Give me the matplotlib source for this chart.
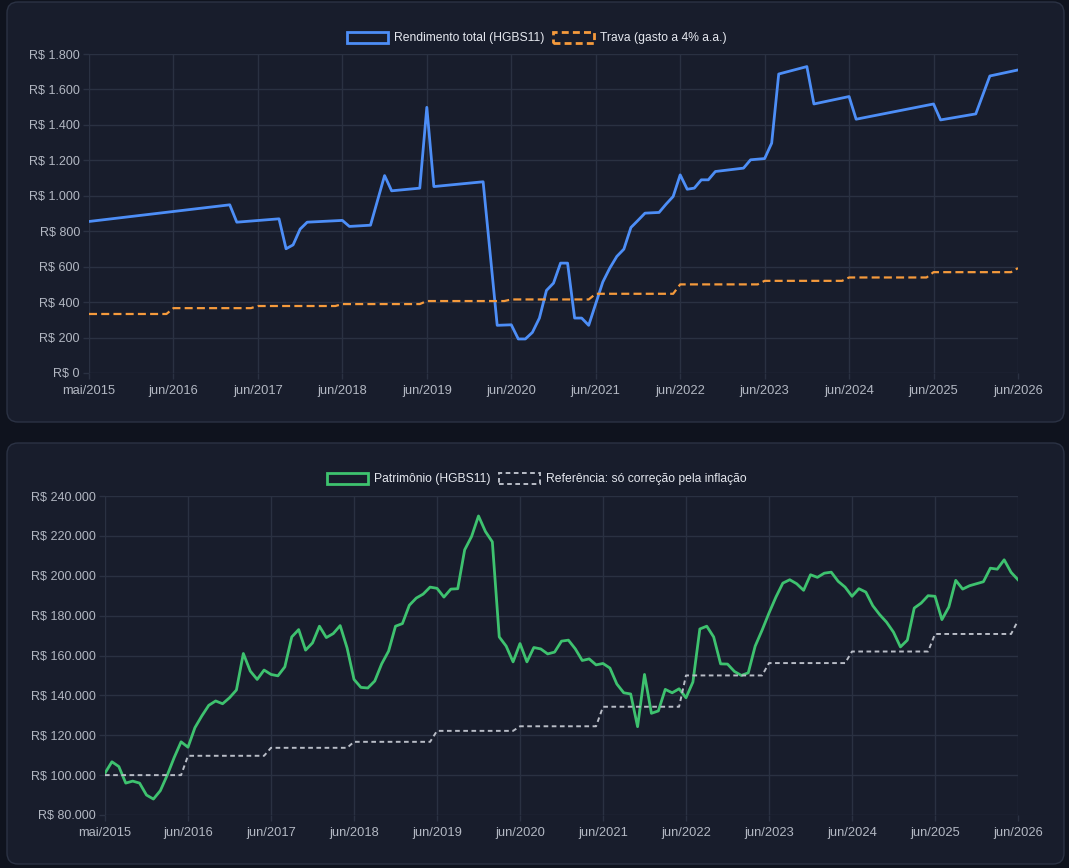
import numpy as np
import matplotlib.pyplot as plt
from matplotlib.patches import FancyBboxPatch, Patch
from matplotlib.ticker import FuncFormatter

# -----------------------------
# Data
# -----------------------------
tick_labels = ["mai/2015", "jun/2016", "jun/2017", "jun/2018", "jun/2019", "jun/2020",
               "jun/2021", "jun/2022", "jun/2023", "jun/2024", "jun/2025", "jun/2026"]
n_points = 133  # monthly points, mai/2015 .. jun/2026

# Rendimento total (HGBS11): vertices (month index, R$)
rend_idx = [0, 20, 21, 27, 28, 29, 30, 31, 36, 37, 40, 42, 43, 47, 48, 49, 56, 58, 60,
            61, 62, 63, 64, 65, 66, 67, 68, 69, 70, 71, 73, 74, 75, 76, 77, 78, 79, 81,
            82, 83, 84, 85, 86, 87, 88, 89, 93, 94, 96, 97, 98, 102, 103, 108, 109, 120,
            121, 126, 128, 132]
rend_val = [855, 949, 851, 870, 701, 723, 812, 851, 861, 827, 834, 1114, 1028, 1043, 1499,
            1052, 1079, 269, 272, 192, 192, 229, 310, 466, 507, 620, 620, 310, 310, 269,
            513, 592, 658, 699, 821, 861, 902, 906, 953, 996, 1118, 1037, 1043, 1090, 1090,
            1137, 1156, 1203, 1210, 1297, 1687, 1729, 1518, 1560, 1432, 1518, 1428, 1462,
            1676, 1710]

# Trava (gasto a 4% a.a.): value for each yearly step (index 0, 12, 24, ... 132)
trava_steps = [333, 366, 378, 389, 406, 415, 447, 500, 520, 539, 569, 592]

# Patrimonio (HGBS11), monthly, R$
patrimonio = [101000, 106700, 104300, 96000, 97000, 96000, 90000, 88000, 92200, 100000,
              108800, 116700, 114000, 123800, 129700, 135000, 137200, 135800, 138800, 142700,
              161000, 152200, 148000, 152700, 150500, 149800, 154300, 169300, 173000, 162700,
              166300, 174700, 169000, 171000, 175000, 163800, 148000, 144000, 143700, 147200,
              155800, 162200, 174700, 176000, 185200, 188800, 190800, 194300, 193700, 189300,
              193300, 193500, 213000, 219700, 230000, 222200, 217000, 169300, 164700, 156800,
              166000, 156800, 164000, 163300, 160800, 161700, 167200, 167700, 163300, 157500,
              158300, 155300, 156000, 153700, 145700, 141300, 140700, 124300, 150500, 131000,
              132200, 143000, 141300, 143300, 138800, 146700, 173300, 174700, 169300, 155800,
              155700, 152000, 150000, 151300, 164700, 172700, 181300, 189300, 196300, 198000,
              196000, 192700, 200500, 199200, 201300, 201800, 197200, 194300, 189700, 193500,
              191800, 185000, 180500, 176700, 171700, 164300, 167700, 183800, 186300, 190000,
              189700, 178000, 184300, 197700, 193300, 195000, 196000, 197000, 203800, 203300,
              208000, 201700, 198000]

# Referencia: so correcao pela inflacao, yearly steps
ref_steps = [100000, 109700, 113700, 116700, 122200, 124500, 134300, 150000, 156200,
             162000, 170800, 177500]


def step_vertices(steps):
    # flat for 11 months, then a one-month ramp to the next level
    xs, ys = [], []
    for k, v in enumerate(steps):
        xs.append(12 * k)
        ys.append(v)
        if k < len(steps) - 1:
            xs.append(12 * k + 11)
            ys.append(v)
    return xs, ys


def brl(v, pos=None):
    return "R$ " + f"{int(round(v)):,}".replace(",", ".")


# -----------------------------
# Style
# -----------------------------
plt.rcParams["font.family"] = ["Liberation Sans", "DejaVu Sans"]
page_bg = "#0f131e"
card_bg = "#181d2c"
card_edge = "#2b3244"
grid_c = "#2a3142"
tick_c = "#b3b8c3"
legend_c = "#e4e7ee"

fig = plt.figure(figsize=(10.69, 8.68), dpi=100, facecolor=page_bg)

for (x0, y0, x1, y1) in [(7, 2, 1064, 422), (7, 443, 1064, 864)]:
    card = FancyBboxPatch((x0 / 100, (868 - y1) / 100), (x1 - x0) / 100, (y1 - y0) / 100,
                          boxstyle="round,pad=0,rounding_size=0.11",
                          transform=fig.dpi_scale_trans,
                          facecolor=card_bg, edgecolor=card_edge, linewidth=1, zorder=-10)
    fig.patches.append(card)

ax1 = fig.add_axes([89 / 1069, 1 - 373 / 868, (1018 - 89) / 1069, 319 / 868])
ax2 = fig.add_axes([105 / 1069, 1 - 815 / 868, (1018 - 105) / 1069, 319 / 868])

for ax in (ax1, ax2):
    ax.set_facecolor("none")
    for s in ax.spines.values():
        s.set_visible(False)
    ax.grid(True, color=grid_c, linewidth=1)
    ax.set_axisbelow(True)
    ax.set_xlim(0, n_points - 1)
    ax.set_xticks(range(0, n_points, 12))
    ax.set_xticklabels(tick_labels)
    ax.tick_params(colors=tick_c, labelsize=9, length=4.5, width=1, pad=2)
    ax.tick_params(axis="x", pad=10.8, labelsize=9.3)
    ax.tick_params(axis="both", color=grid_c)
    for lab in ax.get_xticklabels():
        lab.set_verticalalignment("baseline")
    ax.yaxis.set_major_formatter(FuncFormatter(brl))

leg_kw = dict(loc="center", ncol=2, frameon=False, fontsize=8.7, handlelength=3.4,
              handleheight=1.0, handletextpad=0.5, columnspacing=0.7,
              bbox_transform=fig.transFigure)

# -----------------------------
# Top chart
# -----------------------------
ax1.set_ylim(0, 1800)
ax1.set_yticks(range(0, 1801, 200))
ax1.plot(rend_idx, rend_val, color="#4d8ef7", linewidth=2, solid_joinstyle="round")
tx, ty = step_vertices(trava_steps)
ax1.plot(tx, ty, color="#f59a3c", linewidth=1.6, linestyle=(0, (3.6, 1.9)))

h1 = [Patch(facecolor="none", edgecolor="#4d8ef7", linewidth=2),
      Patch(facecolor="none", edgecolor="#f59a3c", linewidth=2, linestyle=(0, (2.5, 1.5)))]
leg1 = ax1.legend(h1, ["Rendimento total (HGBS11)", "Trava (gasto a 4% a.a.)"],
                  bbox_to_anchor=(537 / 1069, 1 - 38 / 868), **leg_kw)
for t in leg1.get_texts():
    t.set_color(legend_c)

# -----------------------------
# Bottom chart
# -----------------------------
ax2.set_ylim(80000, 240000)
ax2.set_yticks(range(80000, 240001, 20000))
ax2.plot(range(n_points), patrimonio, color="#3ec26f", linewidth=2, solid_joinstyle="round")
rx, ry = step_vertices(ref_steps)
ax2.plot(rx, ry, color="#b9bdc7", linewidth=1.4, linestyle=(0, (2.4, 1.8)))

h2 = [Patch(facecolor="none", edgecolor="#3ec26f", linewidth=2),
      Patch(facecolor="none", edgecolor="#b9bdc7", linewidth=1.4, linestyle=(0, (2.4, 1.8)))]
leg2 = ax2.legend(h2, ["Patrimônio (HGBS11)", "Referência: só correção pela inflação"],
                  bbox_to_anchor=(537 / 1069, 1 - 479 / 868), **leg_kw)
for t in leg2.get_texts():
    t.set_color(legend_c)

fig.savefig("out.png", dpi=100, facecolor=page_bg)
